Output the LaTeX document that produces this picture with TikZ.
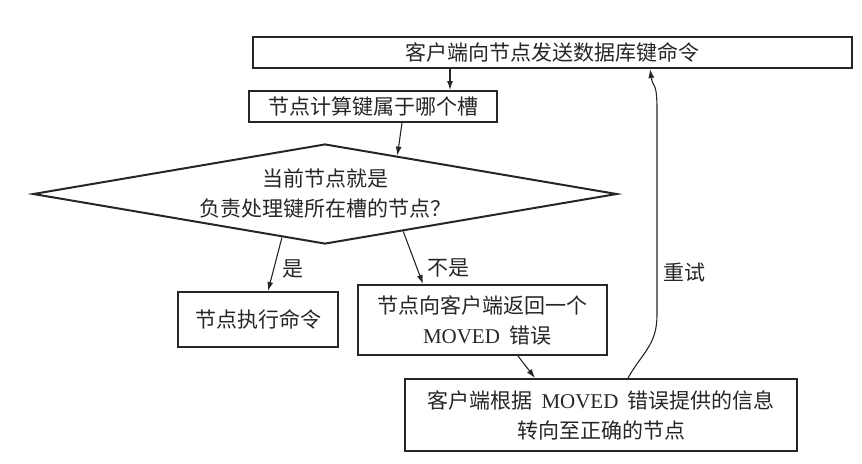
\documentclass[tikz,border=0pt]{standalone}
\usepackage{fontspec}
\setmainfont{Liberation Serif}
\newfontfamily\cjk{Noto Sans CJK SC}
\usetikzlibrary{shapes.geometric,arrows.meta,calc}
\newcommand{\lat}[1]{\hspace{0.45em}{\rmfamily #1}\hspace{0.45em}}

\begin{document}
\begin{tikzpicture}[x=0.5pt, y=-0.5pt,
    box/.style={draw=black!85, line width=1pt, inner sep=0pt, align=center, text=black!85, font=\cjk\fontsize{10.5}{15}\selectfont},
    arr/.style={-{Latex[length=4.5pt,width=3pt]}, line width=0.55pt, draw=black!85},
    lbl/.style={text=black!85, font=\cjk\fontsize{10.5}{15}\selectfont}]
    \useasboundingbox (0,0) rectangle (862,463);

    % Client sends command
    \node[box, minimum width=299.5pt, minimum height=15.5pt] (cmd) at (552.5,52.5) {客户端向节点发送数据库键命令};

    % Slot of the key
    \node[box, minimum width=124pt, minimum height=15.5pt] (slot) at (373,106.5) {节点计算键属于哪个槽};

    % Decision
    \node[box, diamond, aspect=5.84, minimum width=292pt, minimum height=50pt] (check) at (325,194) {当前节点就是\\负责处理键所在槽的节点？};

    % Yes / no branches
    \node[box, minimum width=80pt, minimum height=27.5pt] (done) at (258,319.5) {节点执行命令};
    \node[box, minimum width=124.5pt, minimum height=35pt] (moved) at (482.5,320) {节点向客户端返回一个\\\lat{MOVED}错误};
    \node[box, minimum width=196pt, minimum height=36pt] (redirect) at (601,415) {客户端根据\lat{MOVED}错误提供的信息\\转向至正确的节点};

    % Labels
    \node[lbl] (yes) at (293,269) {是};
    \node[lbl] (no) at (448,268) {不是};
    \node[lbl] (retry) at (684,273) {重试};

    % Arrows
    \draw[arr] ([xshift=-51.25pt]cmd.south) -- ([xshift=38.5pt]slot.north);
    \draw[arr] ([xshift=14.5pt]slot.south) -- ($(check.north)!0.247!(check.east)$);
    \draw[arr] ($(check.south)!0.147!(check.west)$) -- ([xshift=5pt]done.north);
    \draw[arr] ($(check.south)!0.267!(check.east)$) -- ([xshift=-29.75pt]moved.north);
    \draw[arr] ([xshift=17.75pt]moved.south) -- ([xshift=-33pt]redirect.north);

    % Retry loop
    \coordinate (up1) at (657,315);
    \coordinate (up2) at (657,110);
    \draw[arr] ([xshift=13.5pt]redirect.north) .. controls +(14,-25) and +(0,30) .. (up1) -- (up2) .. controls +(0,-30) and +(3,20) .. ([xshift=48.75pt]cmd.south);
\end{tikzpicture}
\end{document}
